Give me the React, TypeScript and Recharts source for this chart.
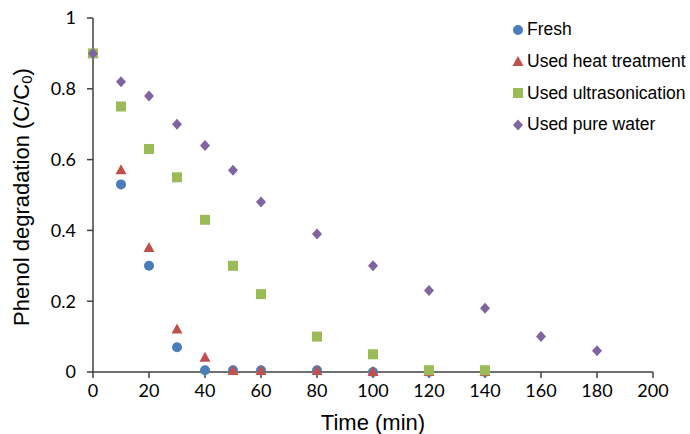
import React from "react";
import {
  ScatterChart,
  Scatter,
  XAxis,
  YAxis,
  Label,
} from "recharts";

const freshTime = [0, 10, 20, 30, 40, 50, 60, 80, 100, 120, 140];
const freshValues = [0.9, 0.53, 0.3, 0.07, 0.005, 0.005, 0.005, 0.005, 0, 0, 0];

const heatTime = [0, 10, 20, 30, 40, 50, 60, 80, 100, 120, 140];
const heatValues = [0.9, 0.57, 0.35, 0.12, 0.04, 0.003, 0.003, 0.003, 0, 0, 0];

const ultraTime = [0, 10, 20, 30, 40, 50, 60, 80, 100, 120, 140];
const ultraValues = [0.9, 0.75, 0.63, 0.55, 0.43, 0.3, 0.22, 0.1, 0.05, 0.005, 0.005];

const waterTime = [0, 10, 20, 30, 40, 50, 60, 80, 100, 120, 140, 160, 180];
const waterValues = [0.9, 0.82, 0.78, 0.7, 0.64, 0.57, 0.48, 0.39, 0.3, 0.23, 0.18, 0.1, 0.06];

const xTicks = [0, 20, 40, 60, 80, 100, 120, 140, 160, 180, 200];
const yTicks = [0, 0.2, 0.4, 0.6, 0.8, 1];

const toPoints = (t: number[], v: number[]) => t.map((x, i) => ({ x, y: v[i] }));

const BLUE = "#4a7ebb";
const RED = "#c0504d";
const GREEN = "#9bbb59";
const PURPLE = "#8064a2";
const AXIS = "#404040";
const FONT = "'Liberation Sans', Arial, sans-serif";
const TICK_FONT = "Lato, 'Open Sans', sans-serif";

type Marker = "circle" | "triangle" | "square" | "diamond";

function markerPath(kind: Marker, cx: number, cy: number, color: string) {
  if (kind === "circle") return <circle cx={cx} cy={cy} r={5} fill={color} />;
  if (kind === "triangle")
    return <polygon points={`${cx},${cy - 6} ${cx + 5.5},${cy + 4} ${cx - 5.5},${cy + 4}`} fill={color} />;
  if (kind === "square")
    return <rect x={cx - 5} y={cy - 5} width={10} height={10} fill={color} />;
  return <polygon points={`${cx},${cy - 5.5} ${cx + 5},${cy} ${cx},${cy + 5.5} ${cx - 5},${cy}`} fill={color} />;
}

const shape = (kind: Marker, color: string) => (props: any) =>
  markerPath(kind, props.cx, props.cy, color);

const series = [
  { name: "Fresh", data: toPoints(freshTime, freshValues), kind: "circle" as Marker, color: BLUE },
  { name: "Used heat treatment", data: toPoints(heatTime, heatValues), kind: "triangle" as Marker, color: RED },
  { name: "Used ultrasonication", data: toPoints(ultraTime, ultraValues), kind: "square" as Marker, color: GREEN },
  { name: "Used pure water", data: toPoints(waterTime, waterValues), kind: "diamond" as Marker, color: PURPLE },
];

// legend sits over the top-right corner of the plot, outside recharts' layout
const LegendBox = () => (
  <div style={{ position: "absolute", left: 511, top: 14, fontFamily: FONT, fontSize: 17.5, color: "#000" }}>
    {series.map((s) => (
      <div key={s.name} style={{ display: "flex", alignItems: "center", height: 31.7, whiteSpace: "nowrap" }}>
        <svg width={14} height={14} style={{ marginRight: 2 }}>
          {markerPath(s.kind, 7, 7, s.color)}
        </svg>
        <span>{s.name}</span>
      </div>
    ))}
  </div>
);

const YTitle = (props: any) => {
  const { viewBox } = props;
  const cy = viewBox.y + viewBox.height / 2 + 2;
  const cx = 21;
  return (
    <text
      x={cx}
      y={cy}
      transform={`rotate(-90, ${cx}, ${cy})`}
      textAnchor="middle"
      dominantBaseline="central"
      fontFamily={FONT}
      fontSize={22}
      fill="#000"
    >
      Phenol degradation (C/C
      <tspan fontSize={15} dy={5}>0</tspan>
      <tspan dy={-5}>)</tspan>
    </text>
  );
};

export default function App() {
  return (
    <div style={{ position: "absolute", left: 0, top: 0, width: 690, height: 434, background: "#fff" }}>
      <ScatterChart width={690} height={434} margin={{ top: 18, right: 37, bottom: 0, left: 0 }}>
        <XAxis
          type="number"
          dataKey="x"
          domain={[0, 200]}
          ticks={xTicks}
          interval={0}
          axisLine={{ stroke: AXIS, strokeWidth: 1.5 }}
          tickLine={{ stroke: AXIS, strokeWidth: 1.5 }}
          tickSize={6}
          tickMargin={6}
          tick={{ fill: "#000", fontSize: 18, fontFamily: TICK_FONT }}
          height={62}
        >
          <Label
            value="Time (min)"
            position="insideBottom"
            offset={4}
            style={{ fontFamily: FONT, fontSize: 22, fill: "#000" }}
          />
        </XAxis>
        <YAxis
          type="number"
          dataKey="y"
          domain={[0, 1]}
          ticks={yTicks}
          interval={0}
          axisLine={{ stroke: AXIS, strokeWidth: 1.5 }}
          tickLine={{ stroke: AXIS, strokeWidth: 1.5 }}
          tickSize={6}
          tickMargin={11}
          tickFormatter={(v: number) => String(v)}
          tick={{ fill: "#000", fontSize: 18, fontFamily: TICK_FONT }}
          width={93}
        >
          <Label content={<YTitle />} />
        </YAxis>
        {series.map((s) => (
          <Scatter
            key={s.name}
            name={s.name}
            data={s.data}
            fill={s.color}
            shape={shape(s.kind, s.color)}
            isAnimationActive={false}
          />
        ))}
      </ScatterChart>
      <LegendBox />
    </div>
  );
}
